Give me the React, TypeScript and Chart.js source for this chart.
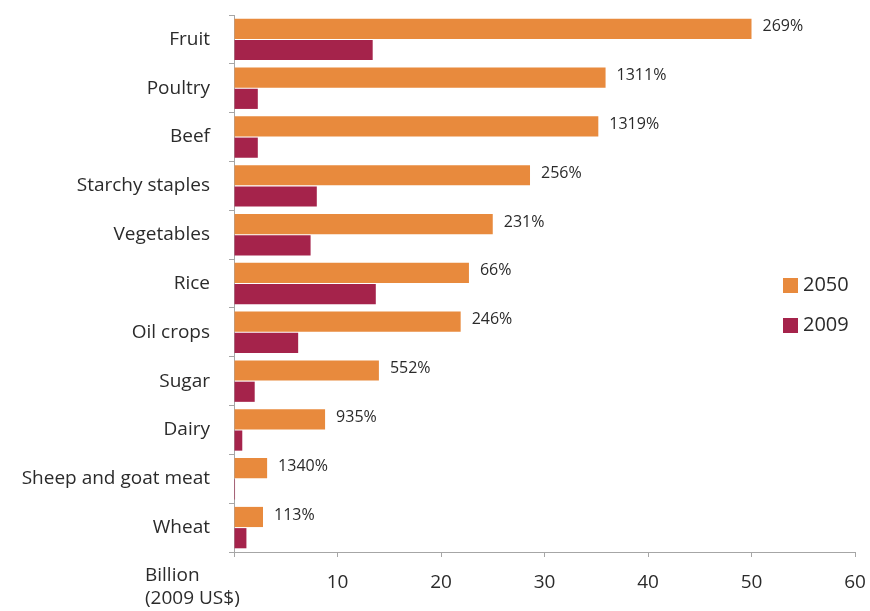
import React, { useEffect, useRef } from "react";
import { Chart, registerables } from "chart.js";

Chart.register(...registerables);

const categories = [
  "Fruit",
  "Poultry",
  "Beef",
  "Starchy staples",
  "Vegetables",
  "Rice",
  "Oil crops",
  "Sugar",
  "Dairy",
  "Sheep and goat meat",
  "Wheat",
];
const values2050 = [50.0, 35.9, 35.2, 28.6, 25.0, 22.7, 21.9, 14.0, 8.8, 3.2, 2.8];
const values2009 = [13.4, 2.3, 2.3, 8.0, 7.4, 13.7, 6.2, 2.0, 0.8, 0.1, 1.2];
const growthLabels = ["269%", "1311%", "1319%", "256%", "231%", "66%", "246%", "552%", "935%", "1340%", "113%"];
const seriesNames = ["2050", "2009"];
const xTicks = [0, 10, 20, 30, 40, 50, 60];

const ORANGE = "#E88A3D";
const CRIMSON = "#A5234B";
const TEXT = "#2b2b2b";
const FONT = "'Open Sans', Lato, sans-serif";

const labelPlugin = {
  id: "growthLabels",
  afterDatasetsDraw(chart: any) {
    const ctx = chart.ctx;
    const meta = chart.getDatasetMeta(0);
    ctx.save();
    ctx.font = `16px ${FONT}`;
    ctx.fillStyle = TEXT;
    ctx.textAlign = "left";
    ctx.textBaseline = "middle";
    meta.data.forEach((el: any, i: number) => {
      ctx.fillText(growthLabels[i], el.x + 11, el.y - 2);
    });
    ctx.restore();
  },
};

const extrasPlugin = {
  id: "extras",
  afterDraw(chart: any) {
    const ctx = chart.ctx;
    ctx.save();
    // axis unit label
    ctx.font = `19px ${FONT}`;
    ctx.fillStyle = TEXT;
    ctx.textAlign = "left";
    ctx.textBaseline = "middle";
    ctx.fillText("Billion", 145, 576);
    ctx.fillText("(2009 US$)", 145, 599);
    // legend
    const colors = [ORANGE, CRIMSON];
    const ys = [285, 325];
    ctx.font = `20px ${FONT}`;
    seriesNames.forEach((name, i) => {
      ctx.fillStyle = colors[i];
      ctx.fillRect(783, ys[i] - 7, 15, 15);
      ctx.fillStyle = TEXT;
      ctx.fillText(name, 803, ys[i]);
    });
    ctx.restore();
  },
};

export default function App() {
  const canvasRef = useRef<HTMLCanvasElement | null>(null);

  useEffect(() => {
    const canvas = canvasRef.current;
    if (!canvas) return;
    const chart = new Chart(canvas, {
      type: "bar",
      data: {
        labels: categories,
        datasets: [
          {
            label: seriesNames[0],
            data: values2050,
            backgroundColor: ORANGE,
            barPercentage: 0.95,
            categoryPercentage: 0.87,
          },
          {
            label: seriesNames[1],
            data: values2009,
            backgroundColor: CRIMSON,
            barPercentage: 0.95,
            categoryPercentage: 0.87,
          },
        ],
      },
      options: {
        indexAxis: "y",
        animation: false,
        responsive: false,
        maintainAspectRatio: false,
        layout: { padding: { top: 15, right: 15, left: 0, bottom: 0 } },
        plugins: {
          legend: { display: false },
          tooltip: { enabled: false },
        },
        scales: {
          x: {
            type: "linear",
            min: 0,
            max: 60,
            afterBuildTicks(scale: any) {
              scale.ticks = xTicks.map((v) => ({ value: v }));
            },
            afterFit(scale: any) {
              scale.height = 59;
              scale.paddingLeft = 0;
              scale.paddingRight = 0;
            },
            grid: {
              display: true,
              drawOnChartArea: false,
              drawTicks: true,
              tickLength: 5,
              color: "#A6A6A6",
            },
            border: { display: true, color: "#A6A6A6", width: 1 },
            ticks: {
              padding: 14,
              color: TEXT,
              font: { family: FONT, size: 19 },
              callback: (v: any) => (v === 0 ? "" : String(v)),
              maxRotation: 0,
            },
          },
          y: {
            type: "category",
            afterFit(scale: any) {
              scale.width = 234;
              scale.paddingTop = 0;
              scale.paddingBottom = 0;
            },
            grid: {
              display: true,
              offset: true,
              drawOnChartArea: false,
              drawTicks: true,
              tickLength: 5,
              color: "#A6A6A6",
            },
            border: { display: true, color: "#A6A6A6", width: 1 },
            ticks: {
              padding: 19,
              color: TEXT,
              font: { family: FONT, size: 19 },
              autoSkip: false,
            },
          },
        },
      },
      plugins: [labelPlugin, extrasPlugin],
    } as any);
    return () => chart.destroy();
  }, []);

  return (
    <div style={{ position: "fixed", left: 0, top: 0, width: 870, height: 611, background: "#fff" }}>
      <canvas ref={canvasRef} width={870} height={611} style={{ width: 870, height: 611, display: "block" }} />
    </div>
  );
}
